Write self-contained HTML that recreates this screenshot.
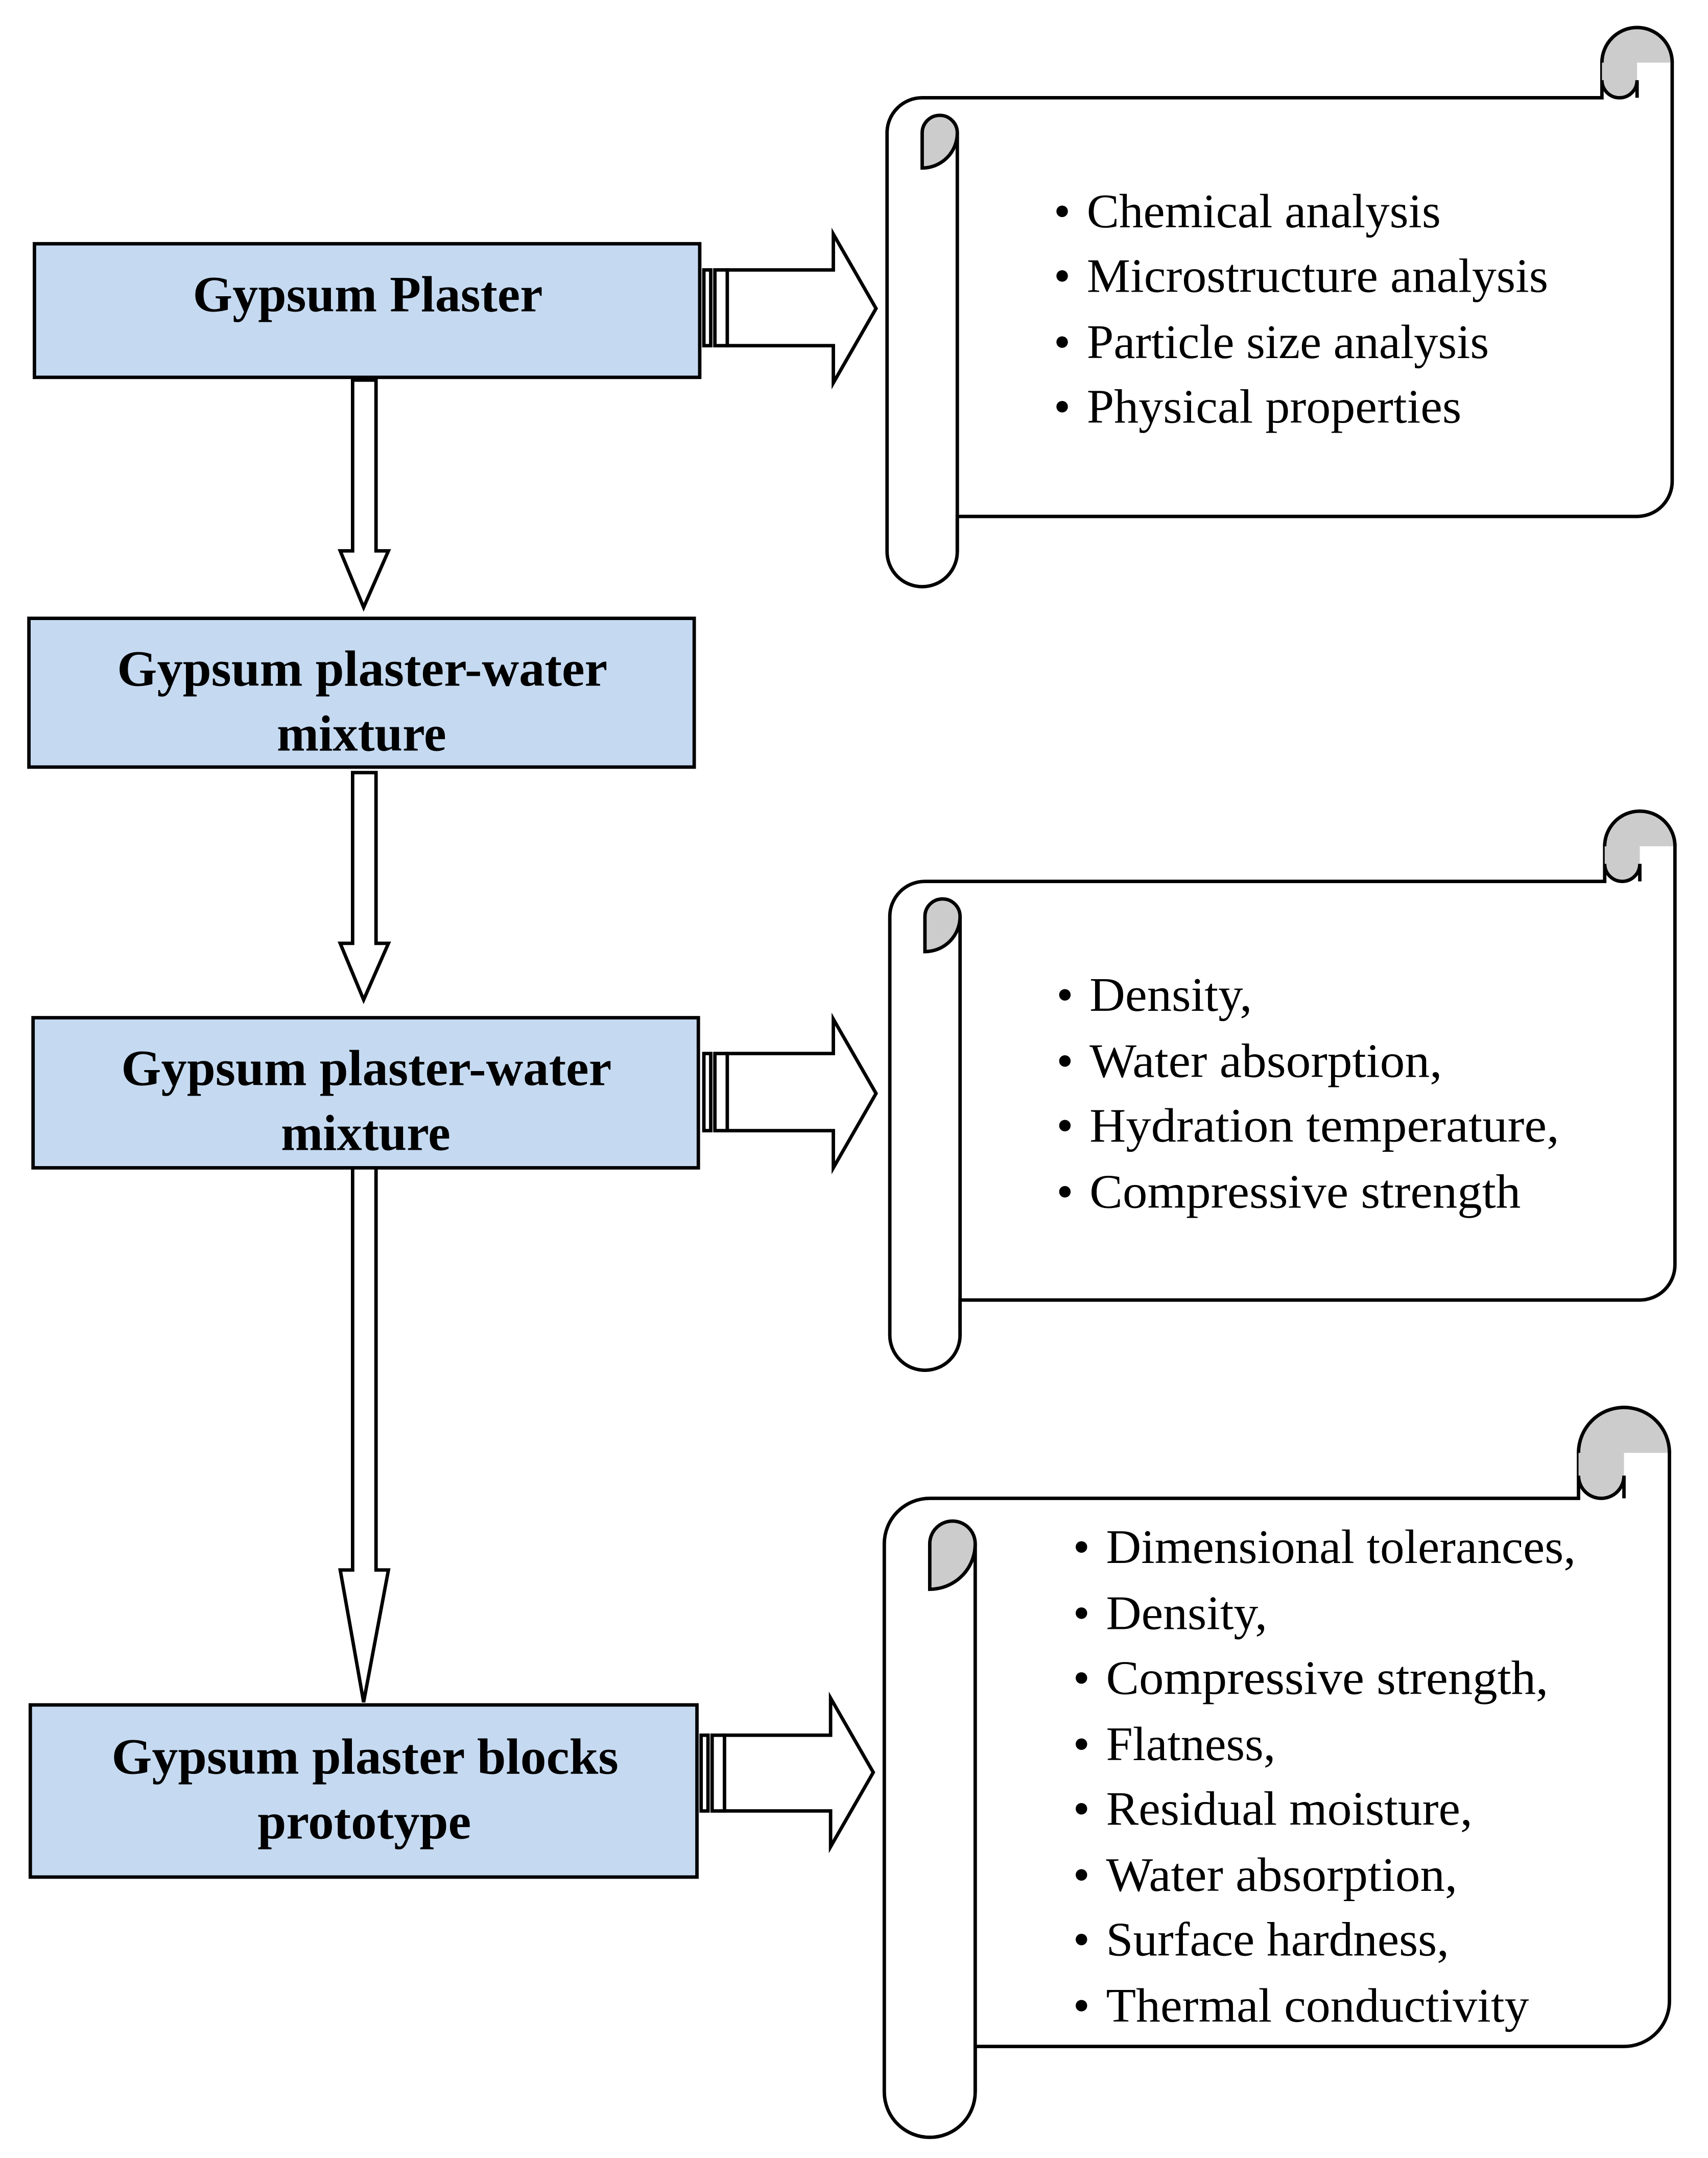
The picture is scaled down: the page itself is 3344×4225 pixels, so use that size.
<!DOCTYPE html>
<html><head><meta charset="utf-8"><style>
html,body{margin:0;padding:0;background:#fff;}
svg{display:block;}
text{font-family:"Liberation Serif",serif;fill:#000;}
.b{font-weight:bold;font-size:37px;}
.i{font-size:35px;}
</style></head><body>
<svg width="3344" height="4225" viewBox="0 0 1240 1567" preserveAspectRatio="none" xmlns="http://www.w3.org/2000/svg">
<rect width="1240" height="1567" fill="#fff"/>
<g stroke="#000" stroke-width="2.5" fill="none" stroke-linejoin="miter">
<rect x="25" y="177" width="483" height="97" fill="#c5daf1"/>
<rect x="21" y="449" width="483" height="108" fill="#c5daf1"/>
<rect x="24" y="739" width="483" height="109" fill="#c5daf1"/>
<rect x="22" y="1238" width="484" height="125" fill="#c5daf1"/>
<path d="M256,276 V400 H247 L264,441 L282,400 H273 V276 Z" fill="#fff"/>
<path d="M256,561 V685 H247 L264,726 L282,685 H273 V561 Z" fill="#fff"/>
<path d="M256,848 V1140 H247 L264,1236 L282,1140 H273 V848 Z" fill="#fff"/>
<g fill="#fff">
<rect x="511" y="196" width="5" height="55"/><rect x="519" y="196" width="9" height="55"/>
<path d="M528,196 H605 V170 L636,224 L605,278 V251 H528 Z"/>
<rect x="511" y="765" width="5" height="56"/><rect x="519" y="765" width="9" height="56"/>
<path d="M528,765 H605 V740 L636,794 L605,848 V821 H528 Z"/>
<rect x="509" y="1260" width="5" height="55"/><rect x="517" y="1260" width="9" height="55"/>
<path d="M526,1260 H603 V1233 L634,1287 L603,1341 V1315 H526 Z"/>
</g>
<path d="M695,375 H1188.5 A25.5 25.5 0 0 0 1214,349.5 V45.5 A25.5 25.5 0 0 0 1163,45.5 V71 H669.5 A25.5 25.5 0 0 0 644,96.5 V400.5 A25.5 25.5 0 0 0 695,400.5 Z" fill="#fff"/>
<line x1="695" y1="96.5" x2="695" y2="400.5"/>
<path d="M669.5,122 V96.5 A12.75 12.75 0 0 1 695,96.5 A25.5 25.5 0 0 1 669.5,122 Z" fill="#ccc"/>
<path d="M1163,45.5 A25.5 25.5 0 0 1 1214,45.5 H1188.5 V58.25 A12.75 12.75 0 0 1 1163,58.25 Z" fill="#ccc" stroke="none"/>
<path d="M1188.5,71 V58.25 A12.75 12.75 0 0 1 1163,58.25"/>
<path d="M1163,45.5 A25.5 25.5 0 0 1 1214,45.5"/>
<path d="M697,944 H1190.5 A25.5 25.5 0 0 0 1216,918.5 V614.5 A25.5 25.5 0 0 0 1165,614.5 V640 H671.5 A25.5 25.5 0 0 0 646,665.5 V969.5 A25.5 25.5 0 0 0 697,969.5 Z" fill="#fff"/>
<line x1="697" y1="665.5" x2="697" y2="969.5"/>
<path d="M671.5,691 V665.5 A12.75 12.75 0 0 1 697,665.5 A25.5 25.5 0 0 1 671.5,691 Z" fill="#ccc"/>
<path d="M1165,614.5 A25.5 25.5 0 0 1 1216,614.5 H1190.5 V627.25 A12.75 12.75 0 0 1 1165,627.25 Z" fill="#ccc" stroke="none"/>
<path d="M1190.5,640 V627.25 A12.75 12.75 0 0 1 1165,627.25"/>
<path d="M1165,614.5 A25.5 25.5 0 0 1 1216,614.5"/>
<path d="M708,1486 H1179 A33 33 0 0 0 1212,1453 V1055 A33 33 0 0 0 1146,1055 V1088 H675 A33 33 0 0 0 642,1121 V1519 A33 33 0 0 0 708,1519 Z" fill="#fff"/>
<line x1="708" y1="1121" x2="708" y2="1519"/>
<path d="M675,1154 V1121 A16.5 16.5 0 0 1 708,1121 A33 33 0 0 1 675,1154 Z" fill="#ccc"/>
<path d="M1146,1055 A33 33 0 0 1 1212,1055 H1179 V1071.5 A16.5 16.5 0 0 1 1146,1071.5 Z" fill="#ccc" stroke="none"/>
<path d="M1179,1088 V1071.5 A16.5 16.5 0 0 1 1146,1071.5"/>
<path d="M1146,1055 A33 33 0 0 1 1212,1055"/>
</g>
<g class="b" >
<text x="140" y="226" textLength="254" lengthAdjust="spacingAndGlyphs">Gypsum Plaster</text>
<text x="85" y="498" textLength="356" lengthAdjust="spacingAndGlyphs">Gypsum plaster-water</text>
<text x="201" y="545" textLength="123" lengthAdjust="spacingAndGlyphs">mixture</text>
<text x="88" y="788" textLength="356" lengthAdjust="spacingAndGlyphs">Gypsum plaster-water</text>
<text x="204" y="835" textLength="123" lengthAdjust="spacingAndGlyphs">mixture</text>
<text x="81" y="1288" textLength="368" lengthAdjust="spacingAndGlyphs">Gypsum plaster blocks</text>
<text x="187" y="1335" textLength="155" lengthAdjust="spacingAndGlyphs">prototype</text>
</g>
<g class="i">
<text x="765" y="165">•</text><text x="789" y="165" textLength="257" lengthAdjust="spacingAndGlyphs">Chemical analysis</text>
<text x="765" y="212">•</text><text x="789" y="212" textLength="335" lengthAdjust="spacingAndGlyphs">Microstructure analysis</text>
<text x="765" y="260">•</text><text x="789" y="260" textLength="292" lengthAdjust="spacingAndGlyphs">Particle size analysis</text>
<text x="765" y="307">•</text><text x="789" y="307" textLength="272" lengthAdjust="spacingAndGlyphs">Physical properties</text>
<text x="767" y="734">•</text><text x="791" y="734" textLength="118" lengthAdjust="spacingAndGlyphs">Density,</text>
<text x="767" y="782">•</text><text x="791" y="782" textLength="256" lengthAdjust="spacingAndGlyphs">Water absorption,</text>
<text x="767" y="829">•</text><text x="791" y="829" textLength="341" lengthAdjust="spacingAndGlyphs">Hydration temperature,</text>
<text x="767" y="877">•</text><text x="791" y="877" textLength="313" lengthAdjust="spacingAndGlyphs">Compressive strength</text>
<text x="779" y="1135">•</text><text x="803" y="1135" textLength="341" lengthAdjust="spacingAndGlyphs">Dimensional tolerances,</text>
<text x="779" y="1183">•</text><text x="803" y="1183" textLength="117" lengthAdjust="spacingAndGlyphs">Density,</text>
<text x="779" y="1230">•</text><text x="803" y="1230" textLength="321" lengthAdjust="spacingAndGlyphs">Compressive strength,</text>
<text x="779" y="1278">•</text><text x="803" y="1278" textLength="123" lengthAdjust="spacingAndGlyphs">Flatness,</text>
<text x="779" y="1325">•</text><text x="803" y="1325" textLength="266" lengthAdjust="spacingAndGlyphs">Residual moisture,</text>
<text x="779" y="1373">•</text><text x="803" y="1373" textLength="255" lengthAdjust="spacingAndGlyphs">Water absorption,</text>
<text x="779" y="1420">•</text><text x="803" y="1420" textLength="249" lengthAdjust="spacingAndGlyphs">Surface hardness,</text>
<text x="779" y="1468">•</text><text x="803" y="1468" textLength="307" lengthAdjust="spacingAndGlyphs">Thermal conductivity</text>
</g>
</svg>
</body></html>
